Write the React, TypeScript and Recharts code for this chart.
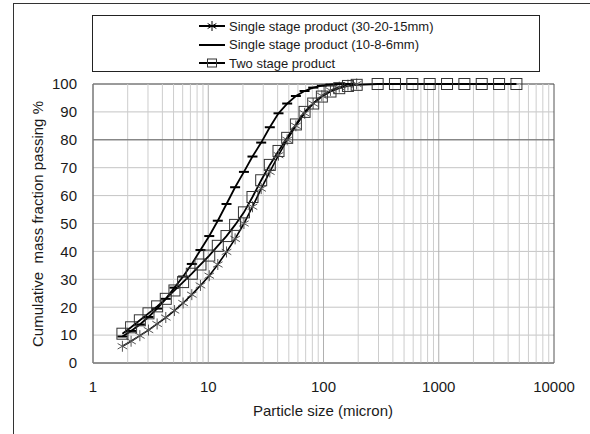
import React from "react";
import {
  LineChart,
  Line,
  XAxis,
  YAxis,
  CartesianGrid,
  ReferenceLine,
  ReferenceArea,
  Label,
} from "recharts";

// sieve sizes (micron) shared by the single stage products
const SIZES = [
  1.8, 2.14, 2.55, 3.03, 3.6, 4.28, 5.09, 6.05, 7.2, 8.56, 10.2, 12.1, 14.4,
  17.1, 20.4, 24.2, 28.8, 34.2, 40.7, 48.4, 57.6, 68.5, 81.4, 96.8, 115, 137,
  163, 194,
];
const TAIL_SIZES = [295, 417, 590, 834, 1180, 1669, 2360, 3338, 4720];

// cumulative mass fraction passing (%)
const COARSE_PASSING = [
  6, 7.8, 9.8, 11.8, 14, 16.3, 18.8, 21.5, 24.5, 27.8, 31.3, 35.3, 39.8, 44.5,
  50, 56, 62.5, 68.5, 74.5, 80, 85, 89.5, 93, 95.8, 97.7, 98.9, 99.6, 100,
];
const FINE_PASSING = [
  9.5, 11.5, 13.8, 16.5, 19.5, 23, 27, 31, 35.5, 40.5, 45.5, 51, 57, 63, 68.5,
  74, 79, 84.5, 89.5, 93, 95.7, 97.5, 98.7, 99.4, 99.8, 100, 100,
];
const TWO_STAGE_PASSING = [
  10.5, 12.8, 15.3, 17.8, 20.3, 23, 26, 29, 32, 35.3, 38.5, 42, 45.5, 49.5, 54,
  59.5, 65.5, 71, 76, 80.7, 85.5, 90, 93, 95.5, 97.3, 98.5, 99.3, 99.7,
];
const TWO_STAGE_TAIL = [100, 100, 100, 100, 100, 100, 100, 100, 100];

const SERIES_NAMES = [
  "Single stage product (30-20-15mm)",
  "Single stage product (10-8-6mm)",
  "Two stage product",
];

const X_TICKS = [1, 10, 100, 1000, 10000];
const Y_TICKS = [0, 10, 20, 30, 40, 50, 60, 70, 80, 90, 100];
const DECADES = [1, 10, 100, 1000];
const MINOR_STEPS = [2, 3, 4, 5, 6, 7, 8, 9];

const FONT = "'Liberation Sans', Arial, sans-serif";

const coarseData = SIZES.map((size, i) => ({ size, pass: COARSE_PASSING[i] }));
const fineData = FINE_PASSING.map((pass, i) => ({ size: SIZES[i], pass }));
const twoStageData = [
  ...TWO_STAGE_PASSING.map((pass, i) => ({ size: SIZES[i], pass })),
  ...TAIL_SIZES.map((size, i) => ({ size, pass: TWO_STAGE_TAIL[i] })),
];

const minorLines: number[] = [];
DECADES.forEach((d) => MINOR_STEPS.forEach((s) => minorLines.push(d * s)));

function AsteriskMark({ cx, cy, r = 5.5, color = "#555" }: any) {
  const dx = r * 0.87;
  const dy = r * 0.5;
  return (
    <g stroke={color} strokeWidth={1}>
      <line x1={cx} y1={cy - r} x2={cx} y2={cy + r} />
      <line x1={cx - dx} y1={cy - dy} x2={cx + dx} y2={cy + dy} />
      <line x1={cx - dx} y1={cy + dy} x2={cx + dx} y2={cy - dy} />
    </g>
  );
}

function DashMark({ cx, cy }: any) {
  return <line x1={cx - 5} y1={cy} x2={cx + 5} y2={cy} stroke="#000" strokeWidth={2} />;
}

function SquareMark({ cx, cy }: any) {
  return (
    <rect x={cx - 5.5} y={cy - 5.5} width={11} height={11} fill="none" stroke="#333" strokeWidth={1} />
  );
}

function LegendIcon({ kind }: { kind: number }) {
  return (
    <svg width={26} height={14} style={{ display: "block" }}>
      <line x1={0} y1={7} x2={26} y2={7} stroke="#000" strokeWidth={2} />
      {kind === 0 && <AsteriskMark cx={13} cy={7} r={5} color="#000" />}
      {kind === 2 && <rect x={8.5} y={3} width={9} height={8} fill="none" stroke="#333" />}
    </svg>
  );
}

export default function App() {
  return (
    <div
      style={{
        position: "absolute",
        left: 0,
        top: 0,
        width: 590,
        height: 434,
        background: "#fff",
        overflow: "hidden",
        fontFamily: FONT,
      }}
    >
      <div
        style={{
          position: "absolute",
          left: 13,
          top: 3,
          width: 620,
          height: 460,
          borderLeft: "1px solid #333",
          borderTop: "1px solid #333",
        }}
      />
      <LineChart
        width={590}
        height={434}
        margin={{ top: 84, right: 36, bottom: 41, left: 13 }}
        style={{ position: "absolute", left: 0, top: 0 }}
      >
        <CartesianGrid vertical={false} stroke="#c4c4c4" strokeWidth={1} />
        {minorLines.map((v) => (
          <ReferenceLine key={v} x={v} stroke="#cdcdcd" strokeWidth={1} />
        ))}
        {[10, 100, 1000].map((v) => (
          <ReferenceLine key={"d" + v} x={v} stroke="#b0b0b0" strokeWidth={1} />
        ))}
        <ReferenceLine y={80} stroke="#666" strokeWidth={1} />
        <XAxis
          dataKey="size"
          type="number"
          scale="log"
          domain={[1, 10000]}
          ticks={X_TICKS}
          allowDataOverflow
          height={30}
          tickLine={false}
          tickSize={6}
          tickMargin={12}
          axisLine={{ stroke: "#888" }}
          tick={{ fill: "#1a1a1a", fontSize: 15, fontFamily: FONT }}
        >
          <Label
            content={() => (
              <text x={323} y={416} textAnchor="middle" fill="#1a1a1a" fontSize={15} fontFamily={FONT}>
                Particle size (micron)
              </text>
            )}
          />
        </XAxis>
        <YAxis
          type="number"
          domain={[0, 100]}
          ticks={Y_TICKS}
          width={80}
          tickLine={false}
          tickSize={6}
          tickMargin={10}
          axisLine={{ stroke: "#888" }}
          tick={{ fill: "#1a1a1a", fontSize: 15, fontFamily: FONT }}
        >
          <Label
            content={() => (
              <text
                x={43}
                y={224}
                transform="rotate(-90 43 224)"
                textAnchor="middle"
                fill="#1a1a1a"
                fontSize={15}
                fontFamily={FONT}
                style={{ whiteSpace: "pre" }}
              >
                {"Cumulative  mass fraction passing %"}
              </text>
            )}
          />
        </YAxis>
        <ReferenceArea x1={1} x2={10000} y1={0} y2={100} fill="none" stroke="#555" strokeWidth={1} />
        <Line
          data={coarseData}
          dataKey="pass"
          name={SERIES_NAMES[0]}
          stroke="#000"
          strokeWidth={1.6}
          isAnimationActive={false}
          dot={(p: any) => <AsteriskMark key={"a" + p.index} cx={p.cx} cy={p.cy} />}
        />
        <Line
          data={fineData}
          dataKey="pass"
          name={SERIES_NAMES[1]}
          stroke="#000"
          strokeWidth={1.8}
          isAnimationActive={false}
          dot={(p: any) => <DashMark key={"b" + p.index} cx={p.cx} cy={p.cy} />}
        />
        <Line
          data={twoStageData}
          dataKey="pass"
          name={SERIES_NAMES[2]}
          stroke="#000"
          strokeWidth={1.8}
          isAnimationActive={false}
          dot={(p: any) => <SquareMark key={"c" + p.index} cx={p.cx} cy={p.cy} />}
        />
      </LineChart>
      <div
        style={{
          position: "absolute",
          left: 92,
          top: 15,
          width: 446,
          height: 55,
          border: "1px solid #222",
          background: "#fff",
        }}
      >
        {SERIES_NAMES.map((name, i) => (
          <div
            key={name}
            style={{
              position: "absolute",
              left: 106,
              top: 1 + i * 18.5,
              height: 18,
              display: "flex",
              alignItems: "center",
              fontSize: 13,
              color: "#1a1a1a",
              whiteSpace: "nowrap",
            }}
          >
            <LegendIcon kind={i} />
            <span style={{ marginLeft: 4 }}>{name}</span>
          </div>
        ))}
      </div>
    </div>
  );
}
